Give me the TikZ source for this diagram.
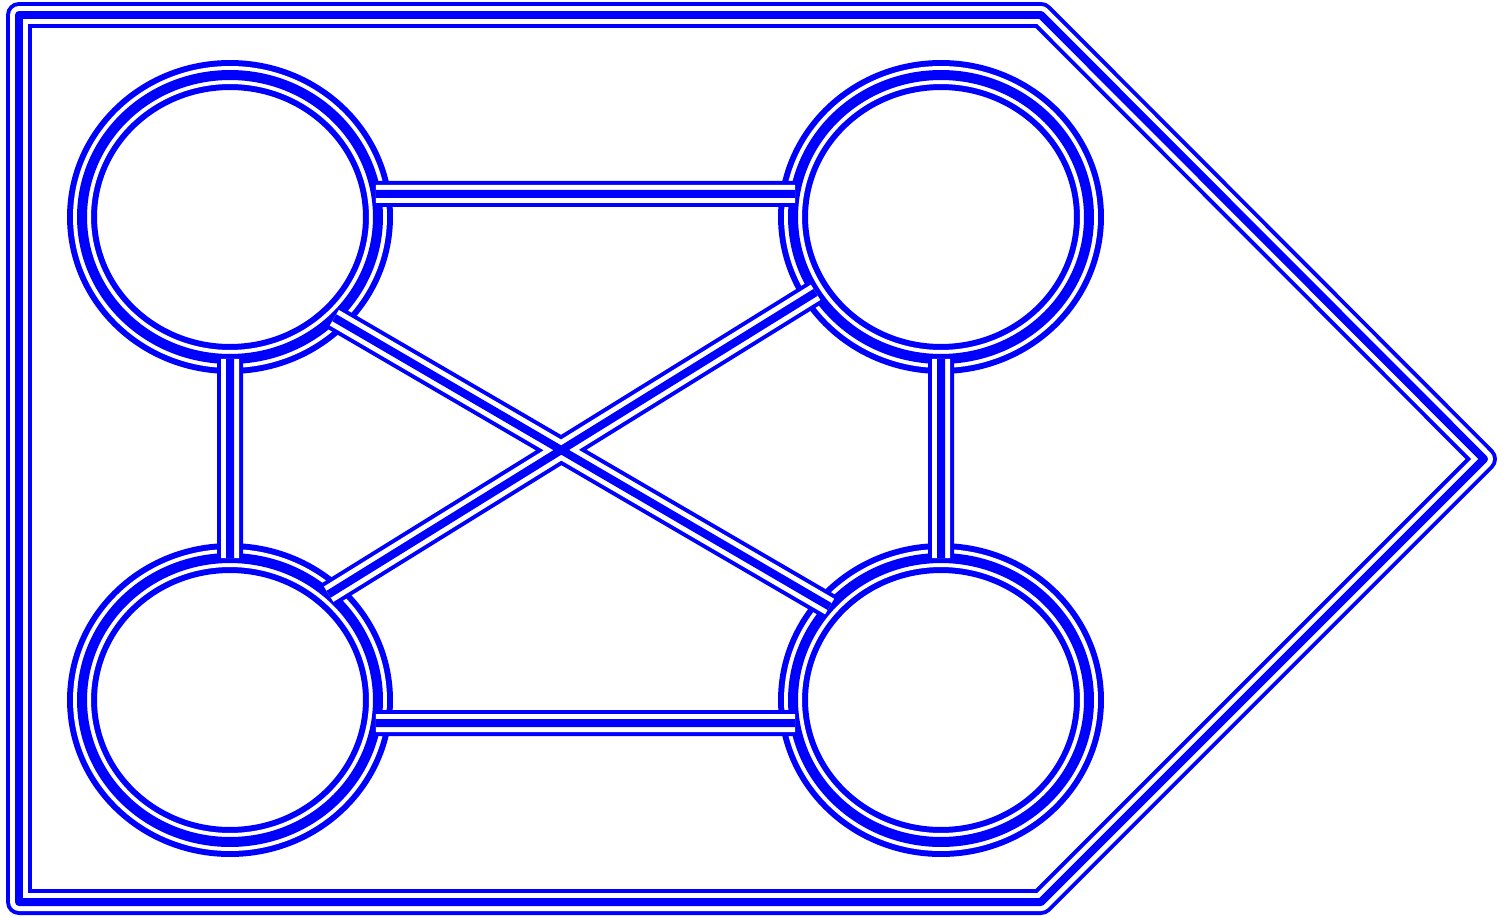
\documentclass[tikz,border=0pt]{standalone}
\usetikzlibrary{shapes.geometric}
\usepackage{xcolor}
\definecolor{wire}{HTML}{0000FF}
\tikzset{
  tri/.style={draw=none,line join=round,
              preaction={draw=wire,line join=round,line width=0.52cm},
              preaction={draw=white,line join=round,line width=0.36cm},
              postaction={draw=wire,line join=round,line width=0.16cm}},
  ring/.style={ellipse,draw=none,inner sep=0pt,outer sep=0pt,
               minimum width=5.92cm,minimum height=5.68cm,
               preaction={draw=wire,line width=0.60cm},
               preaction={draw=white,line width=0.36cm},
               postaction={draw=wire,line width=0.20cm}},
}
\begin{document}
\begin{tikzpicture}[x=0.02cm,y=-0.02cm]
  \useasboundingbox (0,0) rectangle (1510,916);

  %% ── outer frame ──────────────────────────────────────────────────────────
  \draw[tri] (19,15) -- (1041,15) -- (1484,459) -- (1041,902)
    -- (19,902) -- cycle;

  %% ── rings ────────────────────────────────────────────────────────────────
  \node[ring] (tl) at (230,217) {};
  \node[ring] (tr) at (941,217) {};
  \node[ring] (bl) at (230,700) {};
  \node[ring] (br) at (941,700) {};

  %% ── links ────────────────────────────────────────────────────────────────
  \draw[tri] (tl.9) -- (tr.171)
             (bl.-9) -- (br.-171)
             (tl) -- (bl)
             (tr) -- (br)
             (tl.-44) -- (br.140)
             (tr.211) -- (bl.47);

\end{tikzpicture}
\end{document}
